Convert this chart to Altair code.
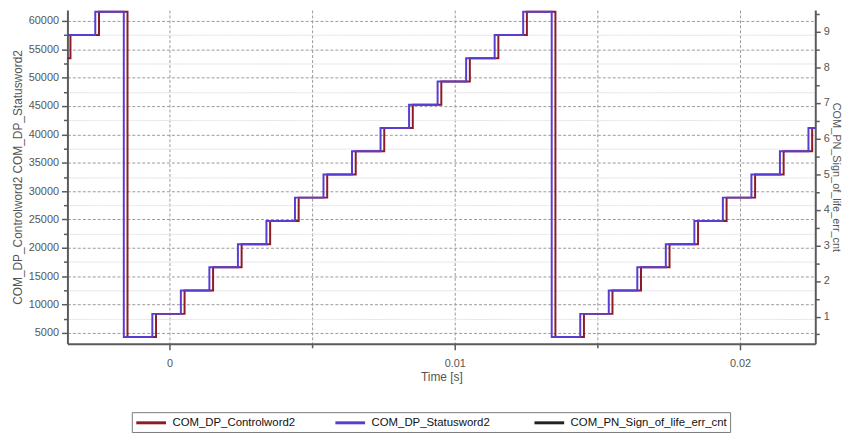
import altair as alt
import pandas as pd

series_names = ["COM_DP_Controlword2", "COM_DP_Statusword2", "COM_PN_Sign_of_life_err_cnt"]
series_colors = ["#8B1C28", "#5A3DD0", "#222222"]

control_t = [-0.0036, -0.00347, -0.00247, -0.00147, -0.00047, 0.00053, 0.00153, 0.00253,
             0.00353, 0.00453, 0.00553, 0.00653, 0.00753, 0.00853, 0.00953, 0.01053,
             0.01153, 0.01253, 0.01353, 0.01453, 0.01553, 0.01653, 0.01753, 0.01853,
             0.01953, 0.02053, 0.02153, 0.02253, 0.0227]
control_v = [53420, 57520, 61610, 4270, 8360, 12460, 16560, 20650, 24750, 28850, 32940,
             37040, 41130, 45230, 49330, 53420, 57520, 61610, 4270, 8360, 12460, 16560,
             20650, 24750, 28850, 32940, 37040, 41130, 41130]

status_t = [-0.0036, -0.0026, -0.0016, -0.0006, 0.0004, 0.0014, 0.0024, 0.0034, 0.0044,
            0.0054, 0.0064, 0.0074, 0.0084, 0.0094, 0.0104, 0.0114, 0.0124, 0.0134,
            0.0144, 0.0154, 0.0164, 0.0174, 0.0184, 0.0194, 0.0204, 0.0214, 0.0224, 0.0227]
status_v = [57520, 61610, 4270, 8360, 12460, 16560, 20650, 24750, 28850, 32940, 37040,
            41130, 45230, 49330, 53420, 57520, 61610, 4270, 8360, 12460, 16560, 20650,
            24750, 28850, 32940, 37040, 41130, 41130]

errcnt_t = [-0.0036, 0.0227]
errcnt_v = [0, 0]

x_ticks = [0, 0.005, 0.01, 0.015, 0.02]
left_ticks = [5000, 7500, 10000, 12500, 15000, 17500, 20000, 22500, 25000, 27500, 30000,
              32500, 35000, 37500, 40000, 42500, 45000, 47500, 50000, 52500, 55000,
              57500, 60000]
right_ticks = [0.5, 1, 1.5, 2, 2.5, 3, 3.5, 4, 4.5, 5, 5.5, 6, 6.5, 7, 7.5, 8, 8.5, 9, 9.5]

words = pd.DataFrame({
    "t": control_t + status_t,
    "v": control_v + status_v,
    "series": [series_names[0]] * len(control_t) + [series_names[1]] * len(status_t),
})
err = pd.DataFrame({"t": errcnt_t, "v": errcnt_v, "series": [series_names[2]] * len(errcnt_t)})

axis_col = "#5a5a5a"
lab_col = "#555555"

color = alt.Color(
    "series:N",
    scale=alt.Scale(domain=series_names, range=series_colors),
    legend=alt.Legend(
        title=None, orient="none", legendX=65, legendY=406, direction="horizontal",
        columns=3, gridAlign="all", columnPadding=0,
        symbolType="M-1,0H4", symbolSize=144, symbolStrokeWidth=3, labelOffset=23,
        labelFont="Liberation Sans", labelFontSize=11.5, labelColor="#111111",
        labelLimit=300, padding=3, strokeColor="#7a7a7a", fillColor="#ffffff",
    ),
)

x_enc = alt.X(
    "t:Q",
    scale=alt.Scale(domain=[-0.003576, 0.022639], nice=False, zero=False),
    axis=alt.Axis(
        values=x_ticks, title="Time [s]", titlePadding=3,
        labelExpr="round(datum.value*1000) % 10 === 0 ? format(datum.value, '~g') : ''",
        tickSize={"condition": {"test": "round(datum.value*1000) % 10 === 0", "value": 6}, "value": 4},
        grid=True, gridDash=[3, 2], gridColor="#9a9a9a", labelPadding=8,
    ),
)

left = alt.Chart(words).mark_line(interpolate="step-after", strokeWidth=2, clip=True).encode(
    x=x_enc,
    y=alt.Y(
        "v:Q",
        scale=alt.Scale(domain=[3080, 61920], nice=False, zero=False),
        axis=alt.Axis(
            orient="left", values=left_ticks, format="d",
            labelExpr="datum.value % 5000 === 0 ? datum.label : ''",
            tickSize={"condition": {"test": "datum.value % 5000 === 0", "value": 6}, "value": 4},
            grid=True,
            gridDash={"condition": {"test": "datum.value % 5000 === 0", "value": [3, 2]}, "value": [1, 0]},
            gridColor={"condition": {"test": "datum.value % 5000 === 0", "value": "#9a9a9a"}, "value": "#e6e6e6"},
            title="COM_DP_Controlword2 COM_DP_Statusword2", titlePadding=4, labelPadding=3,
        ),
    ),
    color=color,
)

right = alt.Chart(err).mark_line(interpolate="step-after", strokeWidth=2, clip=True).encode(
    x=x_enc,
    y=alt.Y(
        "v:Q",
        scale=alt.Scale(domain=[0.235, 9.612], nice=False, zero=False),
        axis=alt.Axis(
            orient="right", values=right_ticks,
            labelExpr="datum.value % 1 === 0 ? format(datum.value, 'd') : ''",
            tickSize={"condition": {"test": "datum.value % 1 === 0", "value": 5}, "value": 4},
            grid=False, title="COM_PN_Sign_of_life_err_cnt", titlePadding=1, labelPadding=3,
            titleFontSize=11,
        ),
    ),
    color=color,
)

chart = alt.layer(left, right).resolve_scale(y="independent").properties(
    width=755, height=337,
    autosize=alt.AutoSizeParams(type="none"),
    padding={"left": 60, "top": 0, "right": 29, "bottom": 89},
).configure_view(stroke=None).configure_axis(
    labelFont="Liberation Sans", labelFontSize=11, labelColor=lab_col,
    titleFont="Liberation Sans", titleFontSize=12, titleFontWeight="normal", titleColor=lab_col,
    domainColor=axis_col, domainWidth=2, tickColor=axis_col, tickWidth=1.5,
)

chart.save("out.html", embed_options={"renderer": "svg", "actions": False})
